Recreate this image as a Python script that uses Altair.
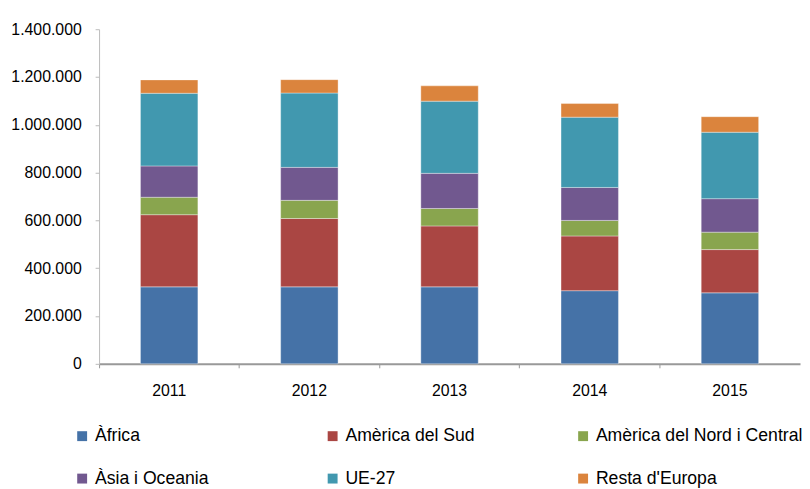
import altair as alt
import pandas as pd

years = ["2011", "2012", "2013", "2014", "2015"]
regions = ["Àfrica", "Amèrica del Sud", "Amèrica del Nord i Central",
           "Àsia i Oceania", "UE-27", "Resta d'Europa"]
colors = ["#4572A7", "#AA4643", "#89A54E", "#71588F", "#4198AF", "#DB843D"]

africa = [322000, 322000, 322000, 306000, 297000]
america_sud = [302000, 286000, 255000, 229000, 181000]
america_nord = [73000, 76000, 73000, 65000, 73000]
asia = [131000, 138000, 147000, 138000, 140000]
ue27 = [304000, 311000, 302000, 294000, 278000]
resta = [56000, 56000, 64000, 57000, 65000]

series = [africa, america_sud, america_nord, asia, ue27, resta]
rows = []
for ri, (reg, vals) in enumerate(zip(regions, series)):
    for y, v in zip(years, vals):
        rows.append({"year": y, "region": reg, "value": v, "ord": ri})
df = pd.DataFrame(rows)

label_expr = "replace(replace(format(datum.value, ','), ',', '.'), ',', '.')"

chart = alt.Chart(df).mark_bar(width=58, stroke="#ffffff", strokeWidth=0.6, strokeOpacity=0.6).encode(
    x=alt.X("year:N", title=None,
            scale=alt.Scale(paddingInner=0, paddingOuter=0),
            axis=alt.Axis(labelAngle=0, labelFontSize=16, labelColor="#000000",
                          domainColor="#999999", domainWidth=2,
                          ticks=True, tickColor="#999999", tickSize=4, bandPosition=0,
                          labelPadding=15, grid=False)),
    y=alt.Y("value:Q", title=None, stack="zero",
            scale=alt.Scale(domain=[0, 1400000], nice=False),
            axis=alt.Axis(values=[0, 200000, 400000, 600000, 800000, 1000000, 1200000, 1400000],
                          labelExpr=label_expr, labelFontSize=16, labelColor="#000000",
                          domainColor="#bbbbbb", tickColor="#bbbbbb", tickSize=4,
                          labelPadding=14, grid=False)),
    color=alt.Color("region:N", scale=alt.Scale(domain=regions, range=colors),
                    legend=alt.Legend(title=None, orient="none", legendX=-26, legendY=402,
                                      direction="horizontal", columns=3, gridAlign="all",
                                      columnPadding=22, rowPadding=24,
                                      symbolType="square", symbolSize=100, symbolStrokeWidth=0,
                                      labelFontSize=17.8, labelColor="#000000", labelOffset=4,
                                      labelLimit=400, padding=0)),
    order=alt.Order("ord:Q", sort="ascending"),
).properties(
    width=708, height=338,
    autosize=alt.AutoSizeParams(type="none"),
    padding={"left": 92, "top": 19, "right": 2, "bottom": 124},
).configure(
    font="Liberation Sans",
).configure_view(
    stroke=None,
)

chart.save("out.html", embed_options={"renderer": "svg", "actions": False})
